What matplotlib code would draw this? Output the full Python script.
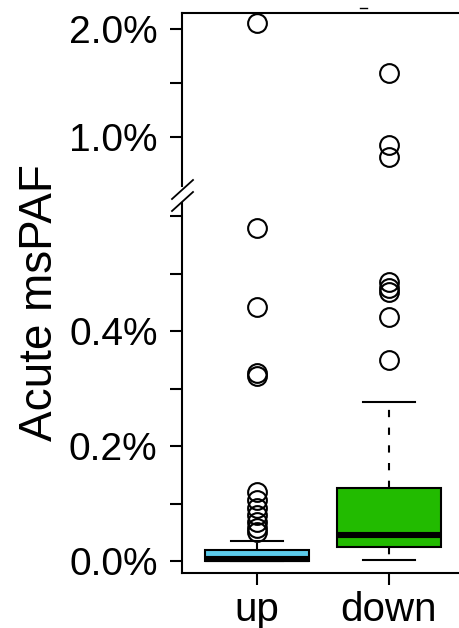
import matplotlib
matplotlib.use("Agg")
import matplotlib.pyplot as plt
from matplotlib.lines import Line2D

plt.rcParams['font.family'] = ['Liberation Sans', 'DejaVu Sans']

# ---- data (values in percent) ----
groups = ["up", "down"]
box_colors = ["#5CCBEB", "#22BB00"]
q1 = [0.0, 0.024]
medians = [0.004, 0.045]
q3 = [0.019, 0.127]
whisk_lo = [0.0, 0.002]
whisk_hi = [0.035, 0.277]
fliers_up = [0.050, 0.057, 0.068, 0.080, 0.092, 0.106, 0.120,
             0.322, 0.327, 0.442, 0.579, 2.056]
fliers_down = [0.350, 0.424, 0.468, 0.475, 0.485, 0.815, 0.926, 1.59]
fliers = [fliers_up, fliers_down]
gap_at = 0.7  # axis break (percent)

lower_ticks = [0.0, 0.1, 0.2, 0.3, 0.4, 0.5, 0.6]
lower_labels = ["0.0%", "", "0.2%", "", "0.4%", "", ""]
upper_ticks = [1.0, 1.5, 2.0]
upper_labels = ["1.0%", "", "2.0%"]

W, H = 459, 628
fig = plt.figure(figsize=(W / 100, H / 100), dpi=100)

def fx(px):
    return px / W

def fy(py):
    return 1 - py / H

left_px, right_px = 182, 475
ax_lo = fig.add_axes([fx(left_px), fy(573), fx(right_px - left_px), fy(203) - fy(573)])
ax_hi = fig.add_axes([fx(left_px), fy(186), fx(right_px - left_px), fy(13) - fy(186)])

lw = 1.5
for ax, part in ((ax_lo, 'lo'), (ax_hi, 'hi')):
    stats = []
    for i in range(2):
        if part == 'lo':
            fl = [v for v in fliers[i] if v < gap_at]
        else:
            fl = [v for v in fliers[i] if v >= gap_at]
        stats.append(dict(label=groups[i], med=medians[i], q1=q1[i], q3=q3[i],
                          whislo=whisk_lo[i], whishi=whisk_hi[i], fliers=fl))
    bp = ax.bxp(stats, positions=[1, 2], widths=0.79, patch_artist=True,
                capwidths=0.4, manage_ticks=False,
                boxprops=dict(linewidth=lw, edgecolor='black'),
                medianprops=dict(color='black', linewidth=4.4, solid_capstyle='butt'),
                whiskerprops=dict(color='black', linewidth=lw, linestyle=(0, (3.5, 5))),
                capprops=dict(color='black', linewidth=lw),
                flierprops=dict(marker='o', markersize=13.5, markerfacecolor='none',
                                markeredgecolor='black', markeredgewidth=1.5))
    for patch, c in zip(bp['boxes'], box_colors):
        patch.set_facecolor(c)
    x0 = 1 + (left_px - 257) / 132
    x1 = 1 + (right_px - 257) / 132
    ax.set_xlim(x0, x1)
    ax.spines['right'].set_visible(False)
    for s in ax.spines.values():
        s.set_linewidth(lw)
    ax.tick_params(axis='both', length=8.6, width=lw, labelsize=28, pad=9)

ax_lo.set_ylim((561 - 573) / 575, (561 - 203) / 575)
ax_hi.set_ylim(1 - (186 - 137) / 108, 1 + (137 - 13) / 108)

ax_lo.spines['top'].set_visible(False)
ax_hi.spines['bottom'].set_visible(False)
ax_hi.set_xticks([])

ax_lo.set_yticks(lower_ticks)
ax_lo.set_yticklabels(lower_labels)
ax_hi.set_yticks(upper_ticks)
ax_hi.set_yticklabels(upper_labels)
ax_lo.set_xticks([1, 2])
ax_lo.set_xticklabels(groups)
ax_lo.tick_params(axis='x', pad=4.5, labelsize=29)

# break marks
for dy in (0, 12):
    fig.add_artist(Line2D([fx(172), fx(193)], [fy(199 + dy), fy(180 + dy)],
                          color='black', linewidth=1.3))
# small dash at top
fig.add_artist(Line2D([fx(360), fx(367)], [fy(8), fy(8)], color='black', linewidth=1.0))

fig.text(fx(40), fy(303), "Acute msPAF", rotation=90, fontsize=33,
         ha='center', va='center')

fig.savefig("out.png", dpi=100)
